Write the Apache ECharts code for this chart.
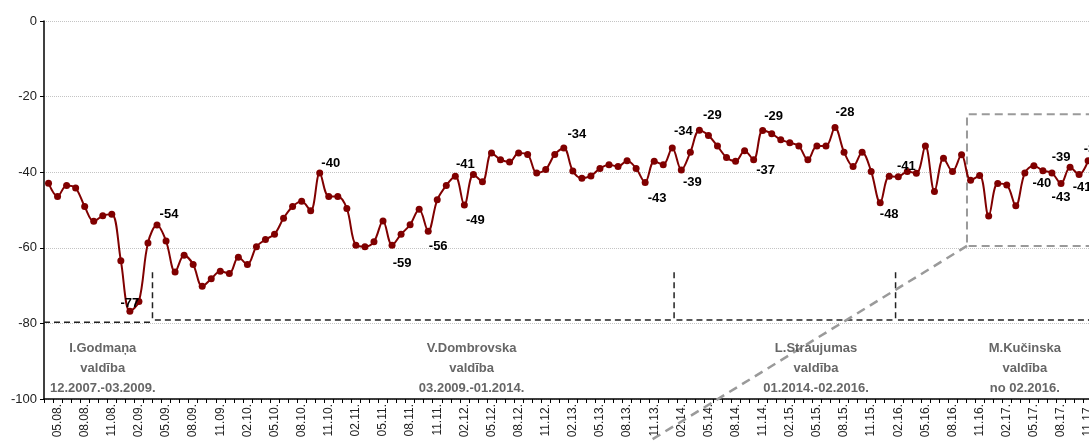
<!DOCTYPE html>
<html><head><meta charset="utf-8">
<script src="https://cdn.jsdelivr.net/npm/echarts@6/dist/echarts.min.js"></script>
<style>html,body{margin:0;padding:0;overflow:hidden;background:#fff;width:1089px;height:442px}
#c{width:1160px;height:442px}</style></head>
<body><div id="c"></div>
<script>
// ---- data ----
const months = [
 '04.08.','05.08.','06.08.','07.08.','08.08.','09.08.','10.08.','11.08.','12.08.',
 '01.09.','02.09.','03.09.','04.09.','05.09.','06.09.','07.09.','08.09.','09.09.','10.09.','11.09.','12.09.',
 '01.10.','02.10.','03.10.','04.10.','05.10.','06.10.','07.10.','08.10.','09.10.','10.10.','11.10.','12.10.',
 '01.11.','02.11.','03.11.','04.11.','05.11.','06.11.','07.11.','08.11.','09.11.','10.11.','11.11.','12.11.',
 '01.12.','02.12.','03.12.','04.12.','05.12.','06.12.','07.12.','08.12.','09.12.','10.12.','11.12.','12.12.',
 '01.13.','02.13.','03.13.','04.13.','05.13.','06.13.','07.13.','08.13.','09.13.','10.13.','11.13.','12.13.',
 '01.14.','02.14.','03.14.','04.14.','05.14.','06.14.','07.14.','08.14.','09.14.','10.14.','11.14.','12.14.',
 '01.15.','02.15.','03.15.','04.15.','05.15.','06.15.','07.15.','08.15.','09.15.','10.15.','11.15.','12.15.',
 '01.16.','02.16.','03.16.','04.16.','05.16.','06.16.','07.16.','08.16.','09.16.','10.16.','11.16.','12.16.',
 '01.17.','02.17.','03.17.','04.17.','05.17.','06.17.','07.17.','08.17.','09.17.','10.17.','11.17.'
];
const confidence = [
 -42.9,-46.4,-43.5,-44.2,-49.1,-53.0,-51.5,-51.1,-63.4,
 -76.8,-74.2,-58.7,-54.0,-58.2,-66.4,-62.0,-64.4,-70.2,-68.2,-66.2,-66.8,
 -62.5,-64.4,-59.7,-57.8,-56.4,-52.2,-49.1,-47.7,-50.2,-40.2,-46.4,-46.4,
 -49.6,-59.3,-59.7,-58.4,-52.9,-59.3,-56.4,-53.9,-49.8,-55.6,-47.3,-43.5,
 -41.1,-48.7,-40.6,-42.5,-34.9,-36.7,-37.3,-34.9,-35.3,-40.2,-39.3,-35.3,
 -33.6,-39.7,-41.6,-41.0,-39.0,-38.0,-38.5,-37.0,-39.0,-42.7,-37.1,-38.0,
 -33.6,-39.4,-34.7,-28.9,-30.3,-33.1,-36.1,-37.1,-34.3,-36.7,-29.0,-29.8,
 -31.4,-32.2,-33.1,-36.7,-33.1,-33.1,-28.2,-34.7,-38.5,-34.7,-39.8,-48.1,
 -41.1,-41.2,-39.8,-40.3,-33.1,-45.1,-36.3,-39.8,-35.4,-42.1,-40.9,-51.6,
 -43.0,-43.4,-48.9,-40.2,-38.3,-39.6,-40.2,-43.0,-38.7,-40.6,-37.0
];
const labelledIdx = [9,12,30,38,42,45,46,57,66,69,70,72,78,79,87,92,94,110,112,113,114,115];
const yTicks = [0,-20,-40,-60,-80,-100];
const governments = [
 ['I.Godmaņa','valdība','12.2007.-03.2009.'],
 ['V.Dombrovska','valdība','03.2009.-01.2014.'],
 ['L.Straujumas','valdība','01.2014.-02.2016.'],
 ['M.Kučinska','valdība','no 02.2016.']
];
const govChangeIdx = [11.5, 69.2, 93.7];   // change of government (month index)

// ---- layout / styles ----
const N = months.length;
const X0 = -0.5, X1 = N - 0.5;
const SYM = 7;
const labelOffsets = {
 9:[0,-8],12:[12,-11],30:[11,-10],38:[10,18],42:[10,15],45:[10,-12],46:[11,15],57:[13,-14],
 66:[12,16],69:[11,-17],70:[11,12],72:[13,-15],78:[12,11],79:[11,-14],87:[10,-15],92:[9,12],
 94:[8,-10],110:[-1,13],112:[0,14],113:[-9,-10],114:[3,13],115:[5,-11]
};
const govTextX = [6.0, 46.8, 84.9, 108.0];
const govTextY = -91.9;
const bracketY = -79.1, bracketTop = -66.5, leftY = -79.7;
const zoomBox = {x: 101.6, top: -24.7, bottom: -59.5, diagEnd: [66.3, -111.4]};

const FONT = '"Liberation Sans", Arial, sans-serif';
const RED = '#800000';

const mainData = confidence.map((v, i) => {
  if (labelledIdx.indexOf(i) < 0) return v;
  const o = labelOffsets[i];
  return {value: v, label: {show: true, position: [SYM / 2 + o[0], SYM / 2 + o[1]],
    align: 'center', verticalAlign: 'middle',
    formatter: p => String(Math.round(p.value)),
    fontFamily: FONT, fontWeight: 'bold', fontSize: 13, color: '#000'}};
});

function dashSeries(points, color, width, dash) {
  return {type: 'line', xAxisIndex: 1, yAxisIndex: 0, data: points, symbol: 'none',
    clip: false, silent: true, z: 1, animation: false,
    lineStyle: {color: color, width: width, type: dash}};
}

const series = [
  dashSeries([[X0, leftY],[govChangeIdx[0], leftY]], '#222', 1.5, [6,4]),
  dashSeries([[govChangeIdx[0], bracketTop],[govChangeIdx[0], bracketY],[govChangeIdx[1], bracketY]], '#222', 1.5, [6,4]),
  dashSeries([[govChangeIdx[1], bracketTop],[govChangeIdx[1], bracketY],[govChangeIdx[2], bracketY]], '#222', 1.5, [6,4]),
  dashSeries([[govChangeIdx[2], bracketTop],[govChangeIdx[2], bracketY],[X1 + 3, bracketY]], '#222', 1.5, [6,4]),
  dashSeries([[X1 + 3, zoomBox.top],[zoomBox.x, zoomBox.top],[zoomBox.x, zoomBox.bottom],[X1 + 3, zoomBox.bottom]], '#9a9a9a', 2, [8,5]),
  dashSeries([[zoomBox.x, zoomBox.bottom], zoomBox.diagEnd], '#9a9a9a', 2.5, [9,6]),
  {type: 'scatter', xAxisIndex: 1, yAxisIndex: 0, symbolSize: 1, silent: true,
   itemStyle: {color: 'rgba(0,0,0,0)'},
   data: govTextX.map(x => [x, govTextY]),
   label: {show: true, position: 'inside', formatter: p => governments[p.dataIndex].join('\n'),
     fontFamily: FONT, fontWeight: 'bold', fontSize: 13, lineHeight: 20, color: '#404040', align: 'center'}},
  {type: 'line', xAxisIndex: 0, yAxisIndex: 0, data: mainData, smooth: 0.35,
   showAllSymbol: true, symbol: 'circle', symbolSize: SYM, z: 5,
   labelLayout: {hideOverlap: false},
   itemStyle: {color: RED}, lineStyle: {color: RED, width: 2}}
];

const chart = echarts.init(document.getElementById('c'), null, {renderer: 'canvas'});
chart.setOption({
  animation: false,
  backgroundColor: '#fff',
  grid: {left: 44, top: 21, width: N * 9.04, height: 378, containLabel: false},
  xAxis: [
    {type: 'category', data: months, boundaryGap: true,
     axisLine: {onZero: false, lineStyle: {color: '#000', width: 1.5}},
     axisTick: {show: true, interval: 0, length: 4, lineStyle: {color: '#000'}},
     axisLabel: {interval: (i) => i % 3 === 1, rotate: 90, margin: 5, padding: [6,0,0,0],
       fontFamily: FONT, fontSize: 12, color: '#222'},
     splitLine: {show: false}},
    {type: 'value', min: X0, max: X1, show: false}
  ],
  yAxis: {type: 'value', min: yTicks[yTicks.length - 1], max: yTicks[0], interval: 20,
    axisLine: {show: true, onZero: false, lineStyle: {color: '#000', width: 1.5}},
    axisTick: {show: true, length: 4, lineStyle: {color: '#000'}},
    axisLabel: {margin: 7, fontFamily: FONT, fontSize: 13, color: '#222'},
    splitLine: {show: true, lineStyle: {color: '#c4c4c4', type: 'dotted', width: 1}}},
  series: series
});
</script>
</body></html>
